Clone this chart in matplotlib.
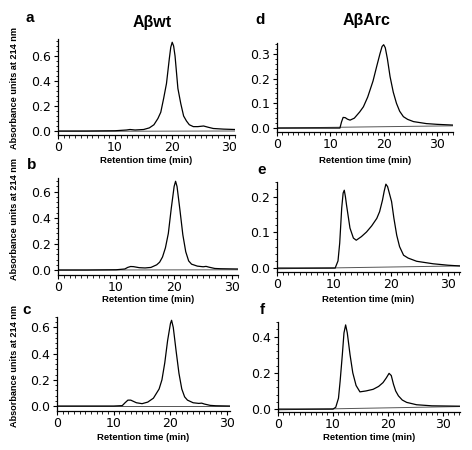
import matplotlib
matplotlib.use("Agg")
import matplotlib.pyplot as plt
from matplotlib.ticker import MultipleLocator

# retention time (min) and absorbance (AU at 214 nm)
t_a = [0, 5, 10, 12, 12.6, 13.5, 15, 16, 16.8, 17.5, 18, 18.5, 19, 19.5, 19.75, 20, 20.25, 20.5,
       21, 21.5, 22, 22.5, 23, 23.7, 24.5, 25.5, 26.3, 27.2, 29, 31]
y_a = [0, 0, 0.002, 0.008, 0.012, 0.008, 0.012, 0.025, 0.05, 0.1, 0.15, 0.26, 0.38, 0.58, 0.67,
       0.71, 0.68, 0.6, 0.34, 0.22, 0.12, 0.08, 0.05, 0.035, 0.035, 0.04, 0.03, 0.02, 0.015, 0.012]

t_b = [0, 5, 10, 11.5, 12, 12.5, 13, 13.5, 14, 15, 16, 17, 17.5, 18, 18.5, 19, 19.5, 20, 20.25,
       20.5, 21, 21.5, 22, 22.5, 23, 24, 25, 25.5, 26, 27, 28, 31]
y_b = [0, 0, 0.002, 0.008, 0.02, 0.027, 0.026, 0.022, 0.018, 0.016, 0.02, 0.04, 0.06, 0.1, 0.17,
       0.28, 0.47, 0.64, 0.68, 0.64, 0.46, 0.27, 0.14, 0.07, 0.045, 0.03, 0.025, 0.028, 0.022,
       0.012, 0.01, 0.008]

t_c = [0, 5, 10, 11.5, 12, 12.5, 13, 13.5, 14, 15, 16, 17, 18, 18.5, 19, 19.5, 20, 20.2, 20.5,
       21, 21.5, 22, 22.5, 23, 24, 25, 25.5, 26, 27, 28, 30.5]
y_c = [0, 0, 0, 0.003, 0.025, 0.045, 0.045, 0.035, 0.025, 0.018, 0.03, 0.06, 0.13, 0.2, 0.33,
       0.5, 0.63, 0.655, 0.6, 0.42, 0.25, 0.13, 0.07, 0.045, 0.025, 0.02, 0.022, 0.015, 0.005,
       0.002, 0.0]

t_d = [0, 5, 10, 11.8, 12.1, 12.4, 12.8, 13.2, 13.7, 14.5, 15.5, 16.2, 17, 18, 18.7, 19.3, 19.7,
       20.0, 20.3, 20.7, 21.2, 21.8, 22.4, 23, 23.7, 24.5, 25.6, 28, 30, 33]
y_d = [0, 0, 0, 0, 0.025, 0.043, 0.042, 0.036, 0.032, 0.04, 0.065, 0.086, 0.125, 0.19, 0.25,
       0.3, 0.33, 0.337, 0.325, 0.28, 0.208, 0.145, 0.1, 0.068, 0.046, 0.035, 0.026, 0.018,
       0.015, 0.012]

t_e = [0, 5, 10, 10.2, 10.7, 11.0, 11.35, 11.6, 11.8, 12.0, 12.2, 12.8, 13.4, 13.9, 14.8, 15.7,
       16.6, 17.5, 18.0, 18.5, 18.8, 19.1, 19.4, 19.7, 20.1, 20.5, 21.0, 21.5, 22.2, 23, 24.5,
       27.4, 30, 32]
y_e = [0, 0, 0, 0.0, 0.02, 0.07, 0.168, 0.21, 0.218, 0.2, 0.176, 0.112, 0.084, 0.078, 0.088,
       0.101, 0.118, 0.139, 0.158, 0.19, 0.215, 0.235, 0.228, 0.21, 0.186, 0.14, 0.092, 0.06,
       0.036, 0.028, 0.019, 0.012, 0.008, 0.006]

t_f = [0, 5, 10, 10.5, 11.0, 11.3, 11.7, 12.0, 12.3, 12.6, 13.1, 13.6, 14.2, 14.9, 16, 17.3,
       18.3, 19.1, 19.7, 20.2, 20.6, 21.0, 21.4, 21.9, 22.6, 23.4, 25.2, 28, 33]
y_f = [0, 0, 0, 0.01, 0.06, 0.154, 0.3, 0.42, 0.464, 0.42, 0.3, 0.2, 0.13, 0.095, 0.1, 0.109,
       0.125, 0.146, 0.172, 0.197, 0.185, 0.137, 0.1, 0.073, 0.05, 0.037, 0.024, 0.018, 0.016]

# straight baselines drawn under each trace (start, end)
base_a = ([0, 31], [-0.003, 0.0])
base_b = ([0, 31], [0.0, 0.002])
base_c = ([0, 30.5], [0.0, 0.0])
base_d = ([0, 33], [0.0, 0.009])
base_e = ([0, 32], [-0.002, 0.006])
base_f = ([0, 33], [-0.004, 0.014])

W, H = 472, 450
fig = plt.figure(figsize=(W / 100, H / 100), dpi=100)

bold = dict(family="Liberation Sans", fontweight="bold")


def panel(left, right, top, bottom, t, y, base, xmax, ylim, ymajor, letter, lx, ly, xl_gap):
    ax = fig.add_axes([left / W, 1 - bottom / H, (right - left) / W, (bottom - top) / H])
    ax.plot(base[0], base[1], color="#555555", lw=0.7)
    ax.plot(t, y, color="black", lw=0.9)
    ax.set_xlim(0, xmax)
    ax.set_ylim(*ylim)
    for s in ("top", "right"):
        ax.spines[s].set_visible(False)
    for s in ("left", "bottom"):
        ax.spines[s].set_linewidth(0.9)
    ax.xaxis.set_major_locator(MultipleLocator(10))
    ax.xaxis.set_minor_locator(MultipleLocator(1))
    ax.yaxis.set_major_locator(MultipleLocator(ymajor))
    ax.yaxis.set_minor_locator(MultipleLocator(ymajor / 5))
    ax.tick_params(which="major", direction="out", length=3, width=0.8, labelsize=9, pad=2)
    ax.tick_params(axis="x", which="major", pad=1.5)
    ax.tick_params(which="minor", direction="out", length=1.8, width=0.6)
    ax.yaxis.set_major_formatter(plt.FormatStrFormatter("%.1f"))
    fig.text((left + right) / 2 / W, 1 - (bottom + xl_gap) / H, "Retention time (min)",
             ha="center", va="center", fontsize=6.8, **bold)
    fig.text(lx / W, 1 - ly / H, letter, ha="center", va="center", fontsize=11, **bold)
    return ax


panel(58, 235, 39, 135, t_a, y_a, base_a, 31.0, (-0.032, 0.736), 0.2, "a", 30, 18, 25)
panel(58, 238, 178, 275, t_b, y_b, base_b, 31.0, (-0.038, 0.705), 0.2, "b", 32, 165, 24)
panel(57, 230, 317, 411, t_c, y_c, base_c, 30.5, (-0.038, 0.68), 0.2, "c", 27, 310, 26)
panel(277, 453, 43, 132, t_d, y_d, base_d, 33.0, (-0.016, 0.344), 0.1, "d", 260, 20, 28)
panel(277, 460, 182, 272, t_e, y_e, base_e, 32.1, (-0.011, 0.241), 0.1, "e", 262, 170, 27)
panel(278, 460, 322, 412, t_f, y_f, base_f, 33.1, (-0.016, 0.48), 0.2, "f", 262, 310, 25)

fig.text(152 / W, 1 - 22 / H, "Aβwt", ha="center", va="center", fontsize=11.5, **bold)
fig.text(367 / W, 1 - 20 / H, "AβArc", ha="center", va="center", fontsize=11.5, **bold)

for yc in (88, 219, 366):
    fig.text(15 / W, 1 - yc / H, "Absorbance units at 214 nm", rotation=90,
             ha="center", va="center", fontsize=6.6, **bold)

fig.savefig("out.png", dpi=100)
